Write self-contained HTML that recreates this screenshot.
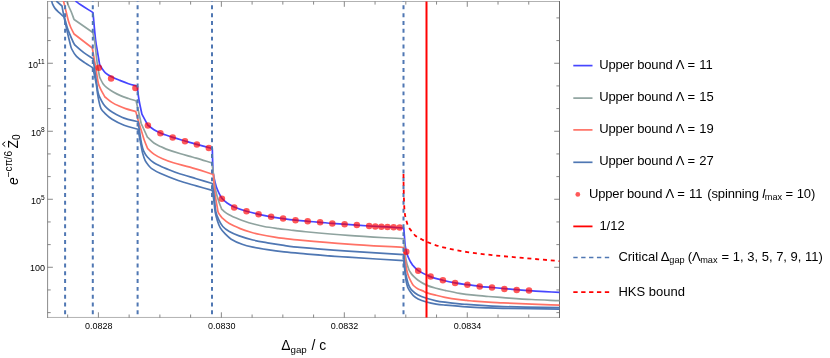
<!DOCTYPE html><html><head><meta charset="utf-8"><title>plot</title>
<style>html,body{margin:0;padding:0;background:#fff}svg{display:block}text{font-family:"Liberation Sans",sans-serif;fill:#000}</style></head><body>
<svg width="830" height="358" viewBox="0 0 830 358">
<rect width="830" height="358" fill="#fff"/>
<g opacity="0.999">
<defs><clipPath id="cp"><rect x="47.1" y="1.0" width="512.9" height="317.1"/></clipPath></defs>
<path d="M47.1 1.5 H560.0" stroke="#b2b2b2" stroke-width="1" fill="none"/>
<path d="M47.1 317.45 H560.0" stroke="#b2b2b2" stroke-width="1" fill="none"/>
<path d="M47.6 1.0 V318.0" stroke="#8c8c8c" stroke-width="1" fill="none"/>
<path d="M559.5 1.0 V318.0" stroke="#6c6c6c" stroke-width="1" fill="none"/>
<g clip-path="url(#cp)" fill="none" stroke-linejoin="round">
<path d="M75.50 1.00 C77.10 2.17 78.65 3.41 80.30 4.50 C84.48 7.27 88.77 9.90 93.00 12.60 L93.00 12.60 C93.87 21.73 94.55 30.89 95.60 40.00 C96.08 44.19 96.92 48.34 97.60 52.50 C98.25 56.47 98.93 60.43 99.60 64.40 L99.60 64.40 C100.57 66.00 101.44 67.67 102.50 69.20 C103.37 70.47 104.24 71.81 105.40 72.80 C107.11 74.25 109.10 75.45 111.10 76.50 C113.90 77.98 116.86 79.19 119.80 80.40 C122.66 81.59 125.56 82.72 128.50 83.70 C131.36 84.65 134.30 85.37 137.20 86.20 L137.20 86.20 C137.80 90.80 138.23 95.43 139.00 100.00 C139.80 104.73 140.93 109.40 141.90 114.10 L141.90 114.10 L147.90 125.30 L147.90 125.30 C149.93 126.77 151.87 128.39 154.00 129.70 C156.04 130.96 158.22 132.00 160.40 133.00 C161.92 133.70 163.52 134.24 165.10 134.80 C167.62 135.70 170.14 136.60 172.70 137.40 C176.78 138.67 180.90 139.81 185.00 141.00 C188.96 142.15 192.92 143.31 196.90 144.40 C202.02 145.81 207.17 147.13 212.30 148.50 L212.30 148.50 C212.53 155.87 212.61 163.25 213.00 170.60 C213.11 172.65 213.39 174.69 213.80 176.70 C214.49 180.09 215.25 183.51 216.30 186.80 C217.05 189.14 218.12 191.39 219.20 193.60 C219.99 195.22 220.75 196.93 221.90 198.30 C223.38 200.07 225.20 201.66 227.10 203.00 C229.30 204.56 231.71 205.94 234.20 207.00 C238.18 208.70 242.34 210.06 246.50 211.30 C250.48 212.49 254.55 213.39 258.60 214.30 C262.75 215.23 266.92 216.07 271.10 216.80 C275.08 217.50 279.09 218.05 283.10 218.60 C287.33 219.18 291.56 219.73 295.80 220.20 C299.76 220.63 303.73 220.96 307.70 221.30 C311.83 221.66 315.97 221.95 320.10 222.30 C324.17 222.65 328.23 223.08 332.30 223.40 C336.40 223.72 340.50 223.92 344.60 224.20 C348.67 224.48 352.73 224.80 356.80 225.10 C360.93 225.40 365.06 225.73 369.20 226.00 C373.26 226.26 377.33 226.48 381.40 226.70 C385.47 226.92 389.54 227.06 393.60 227.30 C396.94 227.50 400.27 227.77 403.60 228.00 L403.80 228.20 C404.00 230.80 404.19 233.40 404.40 236.00 C404.66 239.17 404.75 242.36 405.20 245.50 C405.61 248.36 406.14 251.25 407.00 254.00 C407.77 256.45 408.95 258.80 410.10 261.10 C410.81 262.53 411.77 263.83 412.60 265.20 L412.60 265.20 C414.50 267.00 416.12 269.20 418.30 270.60 C422.02 273.00 426.15 274.98 430.30 276.60 C434.32 278.18 438.60 279.13 442.80 280.20 C446.87 281.23 450.97 282.14 455.10 282.90 C459.14 283.64 463.23 284.13 467.30 284.70 C471.36 285.27 475.43 285.84 479.50 286.30 C483.66 286.77 487.83 287.11 492.00 287.50 C496.13 287.88 500.27 288.23 504.40 288.60 C508.47 288.96 512.53 289.37 516.60 289.70 C520.73 290.04 524.87 290.32 529.00 290.60 C534.33 290.96 539.67 291.29 545.00 291.60 C549.83 291.89 554.67 292.13 559.50 292.40" stroke="#4646ff" stroke-width="1.7"/>
<path d="M66.80 1.00 C67.40 2.67 67.93 4.36 68.60 6.00 C69.43 8.03 70.47 9.97 71.30 12.00 C72.31 14.47 73.17 17.00 74.10 19.50 L74.10 19.50 L92.80 32.50 L92.80 32.50 C93.37 35.00 94.14 37.47 94.50 40.00 C95.67 48.17 96.28 56.42 97.40 64.60 C97.98 68.82 98.87 73.00 99.60 77.20 L99.60 77.20 C100.80 79.47 101.76 81.91 103.20 84.00 C104.16 85.38 105.48 86.55 106.80 87.60 C108.84 89.22 111.05 90.68 113.30 92.00 C115.61 93.35 118.04 94.55 120.50 95.60 C123.10 96.71 125.81 97.60 128.50 98.50 C131.01 99.34 133.57 100.03 136.10 100.80 L136.10 100.80 L141.20 123.50 L141.20 123.50 L147.40 137.20 L147.40 137.20 C149.57 139.13 151.54 141.35 153.90 143.00 C156.11 144.55 158.67 145.59 161.10 146.80 C162.77 147.63 164.45 148.47 166.20 149.10 C170.95 150.80 175.77 152.32 180.60 153.80 C183.71 154.75 186.86 155.54 190.00 156.40 C192.10 156.97 194.22 157.48 196.30 158.10 C201.55 159.68 206.77 161.37 212.00 163.00 L212.00 163.00 C212.47 166.67 212.91 170.34 213.40 174.00 C214.11 179.34 214.60 184.72 215.60 190.00 C216.30 193.65 217.37 197.25 218.50 200.80 C219.41 203.65 220.63 206.40 221.70 209.20 L221.70 209.20 C222.80 210.20 223.83 211.29 225.00 212.20 C226.13 213.09 227.35 213.89 228.60 214.60 C229.98 215.39 231.43 216.08 232.90 216.70 C236.50 218.21 240.12 219.71 243.80 221.00 C247.35 222.24 250.97 223.31 254.60 224.30 C257.70 225.14 260.84 225.93 264.00 226.50 C268.74 227.36 273.53 227.96 278.30 228.60 C282.19 229.12 286.10 229.53 290.00 230.00 C293.33 230.40 296.66 230.89 300.00 231.20 C315.99 232.69 331.98 234.23 348.00 235.40 C366.52 236.76 385.07 237.67 403.60 238.80 L403.80 239.00 C404.47 245.53 404.72 252.15 405.80 258.60 C406.45 262.48 407.56 266.37 409.00 270.00 C409.73 271.84 411.20 273.33 412.30 275.00 L412.30 275.00 C414.23 276.73 415.99 278.70 418.10 280.20 C420.73 282.07 423.56 283.78 426.50 285.10 C429.56 286.48 432.86 287.37 436.10 288.30 C439.03 289.14 442.02 289.76 445.00 290.40 C449.82 291.43 454.64 292.49 459.50 293.30 C464.27 294.09 469.09 294.67 473.90 295.20 C478.72 295.73 483.56 296.10 488.40 296.50 C493.26 296.90 498.13 297.26 503.00 297.60 C512.63 298.26 522.26 298.97 531.90 299.50 C541.09 300.00 550.30 300.30 559.50 300.70" stroke="#8fa39f" stroke-width="1.7"/>
<path d="M63.50 1.00 C64.30 4.27 65.10 7.53 65.90 10.80 C66.70 14.03 67.36 17.31 68.30 20.50 C69.00 22.87 69.82 25.23 70.80 27.50 C71.76 29.73 73.00 31.83 74.10 34.00 L74.10 34.00 L92.30 48.00 L92.30 48.00 C93.27 53.53 94.26 59.06 95.20 64.60 C95.83 68.30 96.37 72.00 97.00 75.70 C97.47 78.47 97.74 81.31 98.50 84.00 C99.07 86.01 100.06 87.92 101.00 89.80 C102.23 92.25 103.67 94.60 105.00 97.00 L105.00 97.00 C107.30 98.80 109.46 100.82 111.90 102.40 C114.16 103.86 116.65 104.99 119.10 106.10 C121.21 107.06 123.40 107.87 125.60 108.60 C128.96 109.71 132.40 110.60 135.80 111.60 L135.80 111.60 C136.70 114.90 137.54 118.22 138.50 121.50 C139.47 124.82 140.57 128.10 141.60 131.40 C142.57 134.53 143.41 137.71 144.50 140.80 C145.44 143.48 146.63 146.07 147.70 148.70 L147.70 148.70 C149.77 150.50 151.65 152.56 153.90 154.10 C156.58 155.93 159.52 157.47 162.50 158.80 C166.02 160.37 169.70 161.68 173.40 162.80 C178.87 164.45 184.52 165.50 190.00 167.10 C197.85 169.40 205.60 172.03 213.40 174.50 L213.40 174.50 C213.80 180.00 213.95 185.53 214.60 191.00 C215.28 196.73 216.45 202.40 217.40 208.10 C217.62 209.40 217.70 210.76 218.10 212.00 C218.40 212.93 218.94 213.79 219.50 214.60 C220.28 215.73 221.09 216.87 222.10 217.80 C224.36 219.87 226.67 222.03 229.30 223.60 C232.71 225.63 236.49 227.13 240.20 228.60 C243.72 230.00 247.36 231.13 251.00 232.20 C254.03 233.09 257.11 233.86 260.20 234.50 C264.97 235.49 269.79 236.31 274.60 237.10 C277.72 237.61 280.86 238.02 284.00 238.40 C289.33 239.05 294.65 239.72 300.00 240.20 C315.99 241.62 331.99 242.97 348.00 244.10 C366.52 245.41 385.07 246.37 403.60 247.50 L403.80 247.70 C404.70 254.80 405.35 261.95 406.50 269.00 C406.89 271.38 407.54 273.75 408.40 276.00 C409.37 278.52 410.68 280.94 412.00 283.30 C412.55 284.27 413.19 285.24 414.00 286.00 C415.22 287.14 416.63 288.19 418.10 289.00 C419.60 289.82 421.32 290.22 422.90 290.90 C424.12 291.42 425.24 292.18 426.50 292.60 C429.64 293.65 432.88 294.47 436.10 295.30 C439.05 296.07 442.01 296.84 445.00 297.40 C449.81 298.30 454.65 299.03 459.50 299.70 C461.89 300.03 464.30 300.15 466.70 300.40 C469.10 300.65 471.49 301.00 473.90 301.20 C478.73 301.60 483.56 301.93 488.40 302.20 C493.26 302.47 498.13 302.58 503.00 302.80 C512.63 303.24 522.26 303.79 531.90 304.20 C541.10 304.59 550.30 304.87 559.50 305.20" stroke="#ff7266" stroke-width="1.7"/>
<path d="M56.30 1.00 L62.00 6.00 L62.00 6.00 C62.47 8.50 62.85 11.02 63.40 13.50 C63.85 15.52 64.44 17.51 65.00 19.50 C66.00 23.04 66.84 26.65 68.10 30.10 C69.67 34.41 71.70 38.57 73.50 42.80 L73.50 42.80 C74.10 43.67 74.54 44.68 75.30 45.40 C77.97 47.94 80.84 50.37 83.80 52.60 C86.77 54.84 90.00 56.73 93.10 58.80 L93.10 58.80 C93.73 63.20 94.37 67.60 95.00 72.00 C95.57 76.00 96.10 80.00 96.70 84.00 C97.14 86.90 97.43 89.85 98.10 92.70 C98.50 94.42 99.15 96.10 99.90 97.70 C100.95 99.93 102.09 102.18 103.50 104.20 C104.63 105.82 106.04 107.27 107.50 108.60 C108.91 109.87 110.45 111.06 112.10 112.00 C115.98 114.22 119.92 116.54 124.10 118.10 C128.56 119.77 133.37 120.50 138.00 121.70 L138.00 121.70 C138.50 124.80 139.00 127.90 139.50 131.00 C140.20 135.33 140.71 139.71 141.60 144.00 C142.11 146.44 142.69 148.94 143.70 151.20 C144.62 153.27 145.90 155.29 147.40 157.00 C149.30 159.16 151.53 161.17 153.90 162.80 C156.09 164.30 158.67 165.26 161.10 166.40 C162.77 167.19 164.48 167.91 166.20 168.60 C170.18 170.21 174.13 171.93 178.20 173.30 C184.16 175.30 190.27 176.90 196.30 178.70 C201.63 180.30 206.97 181.90 212.30 183.50 L212.30 183.50 C212.87 187.33 213.51 191.16 214.00 195.00 C214.71 200.66 214.86 206.43 215.90 212.00 C216.36 214.49 217.41 216.91 218.50 219.20 C219.71 221.74 220.97 224.42 222.80 226.50 C224.57 228.52 226.95 230.14 229.30 231.50 C232.18 233.17 235.35 234.46 238.50 235.60 C243.21 237.30 248.04 238.79 252.90 240.00 C257.67 241.19 262.55 241.96 267.40 242.80 C272.92 243.76 278.45 244.62 284.00 245.40 C289.32 246.15 294.65 246.92 300.00 247.40 C315.98 248.82 331.99 249.97 348.00 251.10 C366.53 252.41 385.07 253.50 403.60 254.70 L403.80 255.00 C404.23 260.00 404.46 265.03 405.10 270.00 C405.49 273.03 406.17 276.03 406.90 279.00 C407.47 281.30 408.03 283.66 409.00 285.80 C409.73 287.43 410.75 289.03 412.00 290.30 C413.78 292.10 415.87 293.77 418.10 295.00 C420.71 296.44 423.64 297.38 426.50 298.30 C429.64 299.31 432.87 300.12 436.10 300.80 C439.03 301.42 442.02 301.81 445.00 302.20 C449.82 302.84 454.66 303.41 459.50 303.90 C461.89 304.14 464.30 304.24 466.70 304.40 C473.93 304.88 481.16 305.36 488.40 305.80 C493.26 306.09 498.13 306.48 503.00 306.60 C521.83 307.08 540.67 307.27 559.50 307.60" stroke="#4f77b3" stroke-width="1.7"/>
<path d="M51.70 1.00 C52.00 2.07 52.15 3.20 52.60 4.20 C53.25 5.66 54.01 7.14 55.00 8.40 C56.24 9.98 57.84 11.29 59.30 12.70 C60.88 14.22 62.50 15.70 64.10 17.20 L64.10 17.20 C65.03 21.50 65.93 25.81 66.90 30.10 C67.86 34.34 68.83 38.59 69.90 42.80 C70.43 44.89 70.77 47.09 71.70 49.00 C72.97 51.59 74.51 54.22 76.50 56.30 C78.95 58.86 82.06 60.85 85.00 62.90 C87.50 64.65 90.20 66.10 92.80 67.70 L92.80 67.70 C93.97 73.13 95.30 78.54 96.30 84.00 C96.83 86.87 96.96 89.81 97.40 92.70 C97.80 95.34 98.21 97.99 98.80 100.60 C99.41 103.29 99.83 106.16 101.00 108.60 C101.86 110.39 103.44 111.89 104.90 113.30 C107.14 115.46 109.47 117.65 112.10 119.30 C115.87 121.65 119.94 123.71 124.10 125.30 C128.57 127.01 133.37 127.90 138.00 129.20 L138.00 129.20 C138.93 134.13 139.84 139.07 140.80 144.00 C141.41 147.14 141.88 150.32 142.70 153.40 C143.35 155.85 144.08 158.35 145.20 160.60 C146.12 162.45 147.49 164.09 148.80 165.70 C149.66 166.76 150.57 167.84 151.70 168.60 C154.34 170.38 157.18 171.99 160.10 173.30 C166.01 175.95 172.07 178.37 178.20 180.50 C184.14 182.57 190.25 184.14 196.30 185.90 C201.62 187.44 206.97 188.90 212.30 190.40 L212.30 190.40 C212.80 193.60 213.37 196.79 213.80 200.00 C214.34 203.99 214.51 208.04 215.20 212.00 C215.71 214.94 216.49 217.86 217.40 220.70 C218.19 223.16 219.01 225.69 220.30 227.90 C221.54 230.02 223.28 231.92 225.00 233.70 C226.91 235.68 228.88 237.76 231.20 239.20 C234.58 241.29 238.35 242.92 242.10 244.30 C245.58 245.58 249.26 246.42 252.90 247.20 C257.69 248.22 262.55 248.97 267.40 249.70 C272.92 250.53 278.45 251.27 284.00 251.90 C289.32 252.50 294.66 252.96 300.00 253.40 C315.99 254.72 331.99 256.09 348.00 257.20 C366.52 258.49 385.07 259.47 403.60 260.60 L403.80 261.00 C404.53 267.40 405.07 273.83 406.00 280.20 C406.34 282.50 406.86 284.81 407.60 287.00 C408.06 288.35 408.81 289.61 409.60 290.80 C410.71 292.48 411.86 294.21 413.30 295.60 C414.70 296.95 416.35 298.15 418.10 299.00 C420.75 300.29 423.65 301.19 426.50 302.00 C429.65 302.89 432.87 303.56 436.10 304.10 C439.04 304.59 442.03 304.83 445.00 305.10 C452.23 305.76 459.46 306.43 466.70 306.90 C473.92 307.37 481.16 307.62 488.40 307.90 C493.26 308.09 498.13 308.22 503.00 308.30 C521.83 308.62 540.67 308.83 559.50 309.10" stroke="#4f77b3" stroke-width="1.7"/>
<g fill="#ff0000" fill-opacity="0.66" stroke="none">
<circle cx="98.8" cy="67.8" r="3.25"/>
<circle cx="111.1" cy="78.5" r="3.25"/>
<circle cx="135.4" cy="88" r="3.25"/>
<circle cx="147.9" cy="125.6" r="3.25"/>
<circle cx="160.4" cy="133.2" r="3.25"/>
<circle cx="172.7" cy="137.5" r="3.25"/>
<circle cx="185" cy="141.2" r="3.25"/>
<circle cx="196.9" cy="144.6" r="3.25"/>
<circle cx="208.8" cy="147.9" r="3.25"/>
<circle cx="221.9" cy="198.7" r="3.25"/>
<circle cx="234.2" cy="207.4" r="3.25"/>
<circle cx="246.5" cy="211.3" r="3.25"/>
<circle cx="258.6" cy="214.3" r="3.25"/>
<circle cx="271.1" cy="216.8" r="3.25"/>
<circle cx="283.1" cy="218.6" r="3.25"/>
<circle cx="295.5" cy="220.3" r="3.25"/>
<circle cx="307.7" cy="221.3" r="3.25"/>
<circle cx="320.1" cy="222.3" r="3.25"/>
<circle cx="332.3" cy="223.4" r="3.25"/>
<circle cx="344.6" cy="224.2" r="3.25"/>
<circle cx="356.8" cy="225.1" r="3.25"/>
<circle cx="369.2" cy="226" r="3.25"/>
<circle cx="375.3" cy="226.4" r="3.25"/>
<circle cx="381.4" cy="226.7" r="3.25"/>
<circle cx="387.5" cy="227" r="3.25"/>
<circle cx="393.6" cy="227.3" r="3.25"/>
<circle cx="399.7" cy="227.4" r="3.25"/>
<circle cx="406.3" cy="251.8" r="3.25"/>
<circle cx="418.2" cy="270.8" r="3.25"/>
<circle cx="430.6" cy="276.6" r="3.25"/>
<circle cx="442.9" cy="280.2" r="3.25"/>
<circle cx="455.1" cy="282.9" r="3.25"/>
<circle cx="467.4" cy="284.7" r="3.25"/>
<circle cx="479.7" cy="286.4" r="3.25"/>
<circle cx="492" cy="287.6" r="3.25"/>
<circle cx="504.4" cy="288.9" r="3.25"/>
<circle cx="516.7" cy="289.9" r="3.25"/>
<circle cx="529" cy="290.6" r="3.25"/>
</g>
<line x1="426.5" y1="1.5" x2="426.5" y2="317.6" stroke="#ff0000" stroke-width="2"/>
<line x1="65.1" y1="314.3" x2="65.1" y2="-4" stroke="#4f77b3" stroke-width="2" stroke-dasharray="3.95 3.87"/>
<line x1="92.8" y1="314.3" x2="92.8" y2="-4" stroke="#4f77b3" stroke-width="2" stroke-dasharray="3.95 3.87"/>
<line x1="137.6" y1="314.3" x2="137.6" y2="-4" stroke="#4f77b3" stroke-width="2" stroke-dasharray="3.95 3.87"/>
<line x1="212.0" y1="314.3" x2="212.0" y2="-4" stroke="#4f77b3" stroke-width="2" stroke-dasharray="3.95 3.87"/>
<line x1="403.5" y1="314.3" x2="403.5" y2="-4" stroke="#4f77b3" stroke-width="2" stroke-dasharray="3.95 3.87"/>
<path d="M403.50 174.00 C403.53 177.67 403.53 181.33 403.60 185.00 C403.70 190.00 403.79 195.00 404.00 200.00 C404.19 204.47 404.23 208.98 404.80 213.40 C405.20 216.51 406.02 219.59 406.90 222.60 C407.39 224.26 408.15 225.85 408.90 227.40 C409.25 228.11 409.71 228.77 410.20 229.40 C411.88 231.54 413.36 233.96 415.40 235.70 C417.30 237.32 419.78 238.27 422.00 239.50 C423.51 240.34 424.98 241.30 426.60 241.90 C432.05 243.90 437.57 245.89 443.20 247.30 C451.13 249.29 459.22 250.81 467.30 252.10 C475.48 253.41 483.75 254.21 492.00 255.10 C499.19 255.88 506.40 256.46 513.60 257.10 C528.86 258.46 544.13 259.77 559.40 261.10" stroke="#ff0000" stroke-width="1.8" stroke-dasharray="4 3.82"/>
</g>
<path d="M67.66 317.6 v-3.1 M67.66 1.5 v3.1 M98.40 317.6 v-5.3 M98.40 1.5 v5.3 M129.14 317.6 v-3.1 M129.14 1.5 v3.1 M159.88 317.6 v-3.1 M159.88 1.5 v3.1 M190.62 317.6 v-3.1 M190.62 1.5 v3.1 M221.36 317.6 v-5.3 M221.36 1.5 v5.3 M252.10 317.6 v-3.1 M252.10 1.5 v3.1 M282.84 317.6 v-3.1 M282.84 1.5 v3.1 M313.58 317.6 v-3.1 M313.58 1.5 v3.1 M344.32 317.6 v-5.3 M344.32 1.5 v5.3 M375.06 317.6 v-3.1 M375.06 1.5 v3.1 M405.80 317.6 v-3.1 M405.80 1.5 v3.1 M436.54 317.6 v-3.1 M436.54 1.5 v3.1 M467.28 317.6 v-5.3 M467.28 1.5 v5.3 M498.02 317.6 v-3.1 M498.02 1.5 v3.1 M528.76 317.6 v-3.1 M528.76 1.5 v3.1 M559.50 317.6 v-3.1 M559.50 1.5 v3.1 M47.6 17.91 h3.1 M559.5 17.91 h-3.1 M47.6 40.58 h3.1 M559.5 40.58 h-3.1 M47.6 63.25 h5.3 M559.5 63.25 h-5.3 M47.6 85.92 h3.1 M559.5 85.92 h-3.1 M47.6 108.59 h3.1 M559.5 108.59 h-3.1 M47.6 131.26 h5.3 M559.5 131.26 h-5.3 M47.6 153.93 h3.1 M559.5 153.93 h-3.1 M47.6 176.60 h3.1 M559.5 176.60 h-3.1 M47.6 199.27 h5.3 M559.5 199.27 h-5.3 M47.6 221.94 h3.1 M559.5 221.94 h-3.1 M47.6 244.61 h3.1 M559.5 244.61 h-3.1 M47.6 267.28 h5.3 M559.5 267.28 h-5.3 M47.6 289.95 h3.1 M559.5 289.95 h-3.1 M47.6 312.62 h3.1 M559.5 312.62 h-3.1" stroke="#6a6a6a" stroke-width="0.8" fill="none"/>
<text x="98.70" y="329" font-size="9.0" text-anchor="middle">0.0828</text>
<text x="221.66" y="329" font-size="9.0" text-anchor="middle">0.0830</text>
<text x="344.62" y="329" font-size="9.0" text-anchor="middle">0.0832</text>
<text x="467.58" y="329" font-size="9.0" text-anchor="middle">0.0834</text>
<text x="44.7" y="67.75" font-size="9.0" text-anchor="end">10<tspan font-size="6.6" dx="-0.1" dy="-3.6">11</tspan></text>
<text x="44.7" y="135.76" font-size="9.0" text-anchor="end">10<tspan font-size="6.6" dx="-0.1" dy="-3.6">8</tspan></text>
<text x="44.7" y="203.77" font-size="9.0" text-anchor="end">10<tspan font-size="6.6" dx="-0.1" dy="-3.6">5</tspan></text>
<text x="45.0" y="271.28" font-size="9.0" text-anchor="end">100</text>
<text x="281.2" y="349.8" font-size="13.9">Δ<tspan font-size="9.8" dy="2.7">gap</tspan><tspan dy="-2.7" dx="0.8"> / c</tspan></text>
<g transform="translate(17.5,185) rotate(-90)">
<text x="0" y="0" font-size="13.9" font-style="italic">e</text>
<text x="7.7" y="-5.5" font-size="10.1">−cπ/6</text>
<text x="36.4" y="0.2" font-size="13.9">Z</text>
<path d="M38.5 -12.3 L40.85 -15.1 L43.2 -12.3" fill="none" stroke="#000" stroke-width="1"/>
<text x="45.0" y="2.5" font-size="10.2">0</text>
</g>
<line x1="573.3" y1="65.6" x2="592.5" y2="65.6" stroke="#4646ff" stroke-width="1.7"/>
<text x="599.2" y="68.6" font-size="13"><tspan textLength="73.5" lengthAdjust="spacing">Upper bound</tspan> <tspan dx="-0.4">Λ</tspan> <tspan dx="0.2">=</tspan> <tspan dx="0.4">11</tspan></text>
<line x1="573.3" y1="98.1" x2="592.5" y2="98.1" stroke="#8fa39f" stroke-width="1.7"/>
<text x="599.2" y="100.9" font-size="13"><tspan textLength="73.5" lengthAdjust="spacing">Upper bound</tspan> <tspan dx="-0.4">Λ</tspan> <tspan dx="0.2">=</tspan> <tspan dx="0.4">15</tspan></text>
<line x1="573.3" y1="129.9" x2="592.5" y2="129.9" stroke="#ff7266" stroke-width="1.7"/>
<text x="599.2" y="133.0" font-size="13"><tspan textLength="73.5" lengthAdjust="spacing">Upper bound</tspan> <tspan dx="-0.4">Λ</tspan> <tspan dx="0.2">=</tspan> <tspan dx="0.4">19</tspan></text>
<line x1="573.3" y1="162.3" x2="592.5" y2="162.3" stroke="#4f77b3" stroke-width="1.7"/>
<text x="599.2" y="165.4" font-size="13"><tspan textLength="73.5" lengthAdjust="spacing">Upper bound</tspan> <tspan dx="-0.4">Λ</tspan> <tspan dx="0.2">=</tspan> <tspan dx="0.4">27</tspan></text>
<circle cx="577.8" cy="194.4" r="2.4" fill="#ff0000" fill-opacity="0.66"/>
<text x="589.0" y="197.8" font-size="13"><tspan textLength="73.5" lengthAdjust="spacing">Upper bound</tspan> <tspan dx="-0.4">Λ</tspan> <tspan dx="0.2">=</tspan> <tspan dx="0.4">11</tspan> <tspan dx="1.2" textLength="51.6" lengthAdjust="spacing">(spinning</tspan> <tspan font-style="italic" dx="0">l</tspan><tspan font-size="9.2" dy="2.6" dx="-0.4">max</tspan><tspan dy="-2.6" dx="-0.4"> = 10)</tspan></text>
<line x1="573.3" y1="226.4" x2="592.5" y2="226.4" stroke="#ff0000" stroke-width="1.8"/>
<text x="599.4" y="229.8" font-size="13">1/12</text>
<line x1="573.3" y1="257.55" x2="609.3" y2="257.55" stroke="#4f77b3" stroke-width="1.6" stroke-dasharray="4.35 3.53"/>
<text x="618.4" y="260.8" font-size="13">Critical <tspan dx="-1.1">Δ</tspan><tspan font-size="9.2" dy="2.6">gap</tspan><tspan dy="-2.6" dx="-0.5"> (Λ</tspan><tspan font-size="9.2" dy="2.6" dx="-0.6">max</tspan><tspan dy="-2.6" dx="0.4"> = 1, 3, 5, 7, 9, 11)</tspan></text>
<line x1="573.3" y1="292.1" x2="609.3" y2="292.1" stroke="#ff0000" stroke-width="1.7" stroke-dasharray="4.35 3.53"/>
<text x="618.4" y="295.9" font-size="13">HKS bound</text>
</g>
</svg></body></html>
